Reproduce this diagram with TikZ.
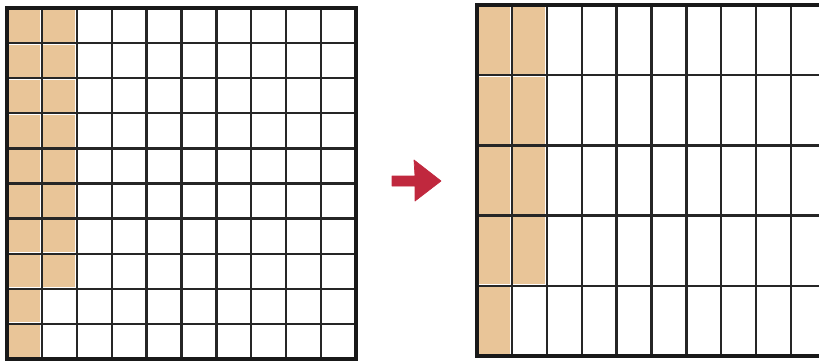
\documentclass[tikz,border=0pt]{standalone}
\usepackage{tikz}
\definecolor{tan}{RGB}{233,197,152}
\definecolor{arrowred}{RGB}{192,40,62}
\tikzset{
  gridline/.style={line width=2pt, black!85},
  frame/.style={line width=2.6pt, black!90},
  cell/.style={fill=tan},
  bigarrow/.style={fill=arrowred, draw=arrowred, line width=0.6pt, line join=round}
}

\begin{document}
\begin{tikzpicture}[x=0.03cm, y=-0.03cm]
\useasboundingbox (0,0) rectangle (819,362);
\clip (0,0) rectangle (819,362);
% left grid: 10 x 10, 18 cells shaded
\foreach \j in {0,...,9} \fill[cell] ({7+1.5},{8+35.1*\j+1.5}) rectangle ++(31.9,32.1);
\foreach \j in {0,...,7} \fill[cell] ({7+34.9+1.5},{8+35.1*\j+1.5}) rectangle ++(31.9,32.1);
\foreach \i in {1,...,9} \draw[gridline] ({7+34.9*\i},8) -- ++(0,351);
\foreach \j in {1,...,9} \draw[gridline] (7,{8+35.1*\j}) -- ++(349,0);
\draw[frame] (7,8) rectangle (356,359);

% arrow
\filldraw[bigarrow] (392,176) -- (415,176) -- (414,160) -- (441,181) -- (415,201) -- (415,186) -- (392,186) -- cycle;

% right grid: 10 x 5, 9 cells shaded
\foreach \j in {0,...,4} \fill[cell] ({477+1.5},{5+70.2*\j+1.5}) rectangle ++(31.9,67.2);
\foreach \j in {0,...,3} \fill[cell] ({477+34.9+1.5},{5+70.2*\j+1.5}) rectangle ++(31.9,67.2);
\foreach \i in {1,...,9} \draw[gridline] ({477+34.9*\i},5) -- ++(0,351);
\foreach \j in {1,...,4} \draw[gridline] (477,{5+70.2*\j}) -- ++(349,0);
\draw[frame] (477,5) rectangle (826,356);
\end{tikzpicture}
\end{document}
